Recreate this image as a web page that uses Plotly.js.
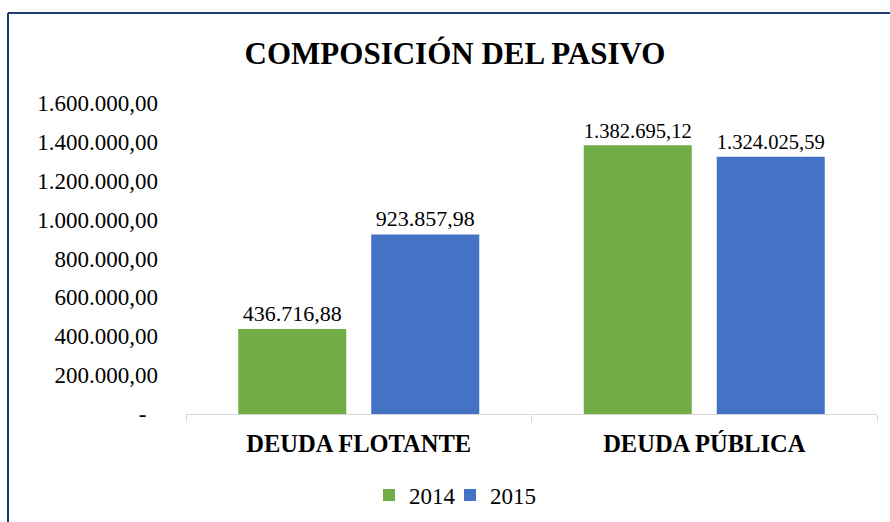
<!DOCTYPE html>
<html>
<head>
<meta charset="utf-8">
<script src="https://cdn.plot.ly/plotly-3.0.1.min.js"></script>
<style>
  html, body { margin: 0; padding: 0; background: #ffffff; }
</style>
</head>
<body>
<div id="chart"></div>
<script>
// ---- data ----
const categories = ["DEUDA FLOTANTE", "DEUDA PÚBLICA"];
const values2014 = [436716.88, 1382695.12];
const values2015 = [923857.98, 1324025.59];
const seriesNames = ["2014", "2015"];
const yTickVals = [0, 200000, 400000, 600000, 800000, 1000000, 1200000, 1400000, 1600000];
const yTickText = ["-\u00a0\u00a0", "200.000,00", "400.000,00", "600.000,00", "800.000,00",
                   "1.000.000,00", "1.200.000,00", "1.400.000,00", "1.600.000,00"];
const chartTitle = "COMPOSICIÓN DEL PASIVO";

const fontFam = "Liberation Serif, Times New Roman, serif";
const colorGreen = "#70ad47";
const colorBlue = "#4472c4";

const traces = [
  {
    type: "bar", name: seriesNames[0], x: categories, y: values2014,
    marker: { color: colorGreen }, legend: "legend",
    texttemplate: "%{y:,.2f}", textposition: "outside",
    textfont: { family: fontFam, size: 22, color: "#000000" },
    cliponaxis: false, hoverinfo: "skip"
  },
  {
    type: "bar", name: seriesNames[1], x: categories, y: values2015,
    marker: { color: colorBlue }, legend: "legend2",
    texttemplate: "%{y:,.2f}", textposition: "outside",
    textfont: { family: fontFam, size: 22, color: "#000000" },
    cliponaxis: false, hoverinfo: "skip"
  }
];

const ml = 186, mr = 13, mt = 103, mb = 108;
const pw = 890 - ml - mr, ph = 522 - mt - mb;
const frameColor = "#1f3b73";

function legendAt(leftPx) {
  return {
    orientation: "h",
    x: (leftPx - ml) / pw, xanchor: "left",
    y: -(495 - (522 - mb)) / ph, yanchor: "middle",
    font: { family: fontFam, size: 23, color: "#000000" },
    itemclick: false, itemdoubleclick: false,
    bgcolor: "rgba(0,0,0,0)", borderwidth: 0
  };
}

const layout = {
  width: 890, height: 522,
  margin: { l: ml, r: mr, t: mt, b: mb, pad: 0, autoexpand: false },
  paper_bgcolor: "#ffffff", plot_bgcolor: "#ffffff",
  separators: ",.",
  font: { family: fontFam, size: 22, color: "#000000" },
  title: {
    text: "<b>" + chartTitle + "</b>",
    font: { family: fontFam, size: 31, color: "#000000" },
    x: 455 / 890, xanchor: "center", xref: "container",
    y: 1 - 53 / 522, yanchor: "middle", yref: "container"
  },
  barmode: "group",
  bargap: 0.23,
  bargroupgap: 0.188,
  xaxis: {
    type: "category", automargin: false,
    showline: true, linecolor: "#d9d9d9", linewidth: 1,
    ticks: "outside", tickson: "boundaries", ticklen: 7, tickcolor: "#d9d9d9",
    tickfont: { family: fontFam, size: 24.5, color: "#000000" },
    tickprefix: "<b>", ticksuffix: "</b>",
    ticklabelstandoff: 8,
    showgrid: false, zeroline: false, fixedrange: true
  },
  yaxis: {
    range: [0, 1600000], automargin: false,
    tickmode: "array", tickvals: yTickVals, ticktext: yTickText,
    ticks: "", showline: false, showgrid: false, zeroline: false,
    tickfont: { family: fontFam, size: 23, color: "#000000" },
    ticklabelstandoff: 27,
    fixedrange: true
  },
  showlegend: true,
  legend: legendAt(369),
  legend2: legendAt(450),
  shapes: [
    { type: "line", xref: "paper", yref: "paper",
      x0: (8 - ml) / pw, x1: (8 - ml) / pw, y0: (522 - mb - 13) / ph, y1: -(mb + 20) / ph,
      line: { color: frameColor, width: 2 } },
    { type: "line", xref: "paper", yref: "paper",
      x0: (8 - ml) / pw, x1: (900 - ml) / pw, y0: (522 - mb - 13) / ph, y1: (522 - mb - 13) / ph,
      line: { color: frameColor, width: 2 } }
  ]
};

Plotly.newPlot("chart", traces, layout, { displayModeBar: false, staticPlot: true });
</script>
</body>
</html>
